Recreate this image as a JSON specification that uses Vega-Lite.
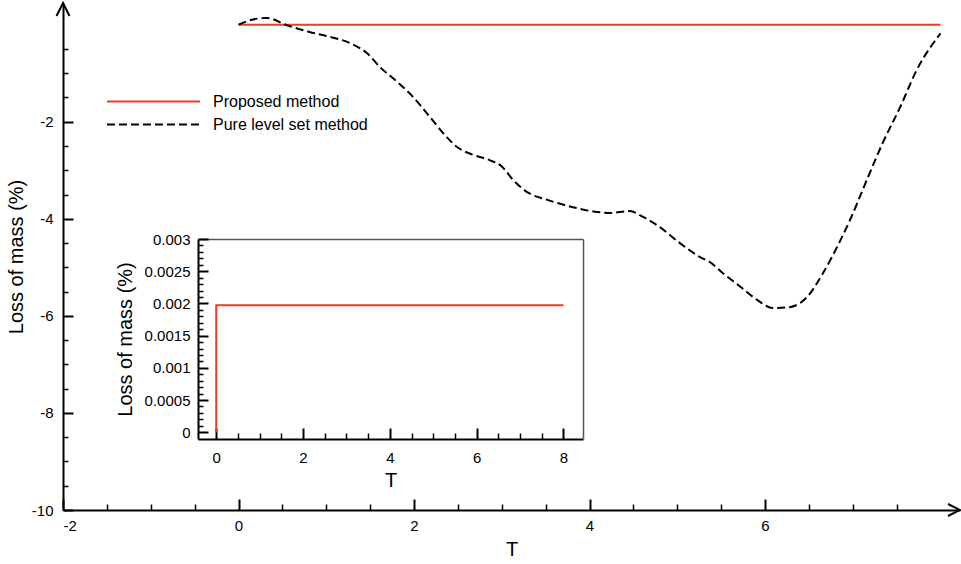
{
  "$schema": "https://vega.github.io/schema/vega-lite/v6.json",
  "width": 897,
  "height": 507,
  "autosize": "none",
  "padding": {"left": 63, "top": 3, "right": 1, "bottom": 54},
  "background": "white",
  "config": {
    "font": "Liberation Sans",
    "view": {"stroke": null},
    "axis": {
      "grid": false,
      "labelColor": "black",
      "titleColor": "black",
      "domainColor": "black",
      "tickColor": "black",
      "titleFontWeight": "normal",
      "labelFont": "Liberation Sans",
      "titleFont": "Liberation Sans"
    },
    "legend": {
      "labelFont": "Liberation Sans",
      "labelColor": "black"
    }
  },
  "datasets": {
    "main": [
      {"T": 0, "L": 0, "method": "Proposed method"},
      {"T": 8, "L": 0, "method": "Proposed method"},
      {"T": 0.00, "L": 0.00, "method": "Pure level set method"},
      {"T": 0.15, "L": 0.10, "method": "Pure level set method"},
      {"T": 0.32, "L": 0.14, "method": "Pure level set method"},
      {"T": 0.55, "L": -0.01, "method": "Pure level set method"},
      {"T": 0.81, "L": -0.15, "method": "Pure level set method"},
      {"T": 1.04, "L": -0.25, "method": "Pure level set method"},
      {"T": 1.27, "L": -0.38, "method": "Pure level set method"},
      {"T": 1.46, "L": -0.58, "method": "Pure level set method"},
      {"T": 1.61, "L": -0.87, "method": "Pure level set method"},
      {"T": 1.81, "L": -1.18, "method": "Pure level set method"},
      {"T": 1.99, "L": -1.49, "method": "Pure level set method"},
      {"T": 2.18, "L": -1.90, "method": "Pure level set method"},
      {"T": 2.37, "L": -2.31, "method": "Pure level set method"},
      {"T": 2.49, "L": -2.52, "method": "Pure level set method"},
      {"T": 2.67, "L": -2.68, "method": "Pure level set method"},
      {"T": 2.86, "L": -2.79, "method": "Pure level set method"},
      {"T": 3.00, "L": -2.92, "method": "Pure level set method"},
      {"T": 3.13, "L": -3.20, "method": "Pure level set method"},
      {"T": 3.29, "L": -3.45, "method": "Pure level set method"},
      {"T": 3.52, "L": -3.61, "method": "Pure level set method"},
      {"T": 3.81, "L": -3.76, "method": "Pure level set method"},
      {"T": 4.09, "L": -3.86, "method": "Pure level set method"},
      {"T": 4.23, "L": -3.88, "method": "Pure level set method"},
      {"T": 4.46, "L": -3.84, "method": "Pure level set method"},
      {"T": 4.61, "L": -3.96, "method": "Pure level set method"},
      {"T": 4.80, "L": -4.17, "method": "Pure level set method"},
      {"T": 5.03, "L": -4.50, "method": "Pure level set method"},
      {"T": 5.26, "L": -4.79, "method": "Pure level set method"},
      {"T": 5.37, "L": -4.89, "method": "Pure level set method"},
      {"T": 5.52, "L": -5.12, "method": "Pure level set method"},
      {"T": 5.72, "L": -5.40, "method": "Pure level set method"},
      {"T": 5.91, "L": -5.67, "method": "Pure level set method"},
      {"T": 6.09, "L": -5.84, "method": "Pure level set method"},
      {"T": 6.28, "L": -5.82, "method": "Pure level set method"},
      {"T": 6.48, "L": -5.61, "method": "Pure level set method"},
      {"T": 6.66, "L": -5.12, "method": "Pure level set method"},
      {"T": 6.86, "L": -4.44, "method": "Pure level set method"},
      {"T": 6.97, "L": -4.02, "method": "Pure level set method"},
      {"T": 7.16, "L": -3.20, "method": "Pure level set method"},
      {"T": 7.34, "L": -2.44, "method": "Pure level set method"},
      {"T": 7.54, "L": -1.70, "method": "Pure level set method"},
      {"T": 7.73, "L": -0.93, "method": "Pure level set method"},
      {"T": 8.00, "L": -0.18, "method": "Pure level set method"}
    ],
    "inset": [
      {"T": 0, "L": 0},
      {"T": 0, "L": 0.00197},
      {"T": 8, "L": 0.00197}
    ]
  },
  "layer": [
    {
      "layer": [
        {
          "data": {"name": "main"},
          "mark": {"type": "line", "strokeWidth": 2, "interpolate": "monotone"},
          "encoding": {
            "x": {
              "field": "T", "type": "quantitative",
              "scale": {"domain": [-2, 8.222], "nice": false, "zero": false},
              "axis": {
                "orient": "bottom",
                "title": "T",
                "titleFontSize": 20,
                "titlePadding": 6,
                "values": [-2, 0, 2, 4, 6],
                "labelExpr": "'' + datum.value",
                "labelFontSize": 15,
                "labelPadding": 8,
                "domainWidth": 2,
                "ticks": false,
                "tickSize": 0
              }
            },
            "y": {
              "field": "L", "type": "quantitative",
              "scale": {"domain": [-10, 0.447], "nice": false, "zero": false},
              "axis": {
                "orient": "left",
                "title": "Loss of mass (%)",
                "titleFontSize": 20,
                "titlePadding": 5,
                "values": [-10, -8, -6, -4, -2],
                "labelExpr": "'' + datum.value",
                "labelFontSize": 15,
                "labelPadding": 10,
                "domainWidth": 2,
                "ticks": false,
                "tickSize": 0
              }
            },
            "color": {
              "field": "method", "type": "nominal",
              "scale": {"domain": ["Proposed method", "Pure level set method"], "range": ["#ef3b24", "#000000"]},
              "legend": {
                "orient": "none",
                "legendX": 43,
                "legendY": 88,
                "title": null,
                "symbolType": "stroke",
                "symbolSize": 8649,
                "symbolStrokeWidth": 2,
                "labelFontSize": 16,
                "labelOffset": 12,
                "clipHeight": 21,
                "rowPadding": 2
              }
            },
            "strokeDash": {
              "field": "method", "type": "nominal",
              "scale": {"domain": ["Proposed method", "Pure level set method"], "range": [[1, 0], [8, 4]]},
              "legend": {
                "orient": "none",
                "legendX": 43,
                "legendY": 88,
                "title": null,
                "symbolType": "stroke",
                "symbolSize": 8649,
                "symbolStrokeWidth": 2,
                "labelFontSize": 16,
                "labelOffset": 12,
                "clipHeight": 21,
                "rowPadding": 2
              }
            }
          }
        },
        {
          "data": {"values": [{}]},
          "mark": {"type": "point", "shape": "M-2,-1L0,0L-2,1", "filled": false, "stroke": "black", "strokeWidth": 2, "size": 144, "opacity": 1},
          "encoding": {"x": {"datum": 8.222}, "y": {"datum": -10}}
        },
        {
          "data": {"values": [{}]},
          "mark": {"type": "point", "shape": "M-1,2L0,0L1,2", "filled": false, "stroke": "black", "strokeWidth": 2, "size": 169, "opacity": 1},
          "encoding": {"x": {"datum": -2}, "y": {"datum": 0.447}}
        }
      ]
    },
    {
      "data": {"name": "main"},
      "mark": {"type": "point", "opacity": 0},
      "encoding": {
        "x": {
          "field": "T", "type": "quantitative",
          "scale": {"domain": [-2, 8.222], "nice": false, "zero": false},
          "axis": {
            "orient": "top",
            "offset": -507,
            "title": null,
            "labels": false,
            "domain": false,
            "values": [-2, -1.5, -1, -0.5, 0, 0.5, 1, 1.5, 2, 2.5, 3, 3.5, 4, 4.5, 5, 5.5, 6, 6.5, 7, 7.5],
            "tickSize": {"condition": {"test": "datum.value % 2 === 0", "value": 11}, "value": 6},
            "tickWidth": {"condition": {"test": "datum.value % 2 === 0", "value": 2}, "value": 1.5}
          }
        },
        "y": {
          "field": "L", "type": "quantitative",
          "scale": {"domain": [-10, 0.447], "nice": false, "zero": false},
          "axis": {
            "orient": "right",
            "offset": -897,
            "title": null,
            "labels": false,
            "domain": false,
            "values": [-10, -9.5, -9, -8.5, -8, -7.5, -7, -6.5, -6, -5.5, -5, -4.5, -4, -3.5, -3, -2.5, -2, -1.5, -1, -0.5],
            "tickSize": {"condition": {"test": "datum.value % 2 === 0", "value": 10}, "value": 5},
            "tickWidth": {"condition": {"test": "datum.value % 2 === 0", "value": 2}, "value": 1.5}
          }
        }
      }
    },
    {
      "data": {"name": "inset"},
      "mark": {"type": "line", "strokeWidth": 2, "color": "#ef3b24"},
      "encoding": {
        "order": {"value": null},
        "x": {
          "field": "T", "type": "quantitative",
          "scale": {"domain": [-0.42, 8.45], "nice": false, "zero": false, "range": [135, 520]},
          "axis": {
            "orient": "bottom",
            "offset": -71,
            "title": "T",
            "titleFontSize": 20,
            "titlePadding": 5,
            "values": [0, 2, 4, 6, 8],
            "labelExpr": "'' + datum.value",
            "labelFontSize": 15,
            "labelPadding": 11,
            "domainWidth": 2,
            "ticks": false,
            "tickSize": 0
          }
        },
        "y": {
          "field": "L", "type": "quantitative",
          "scale": {"domain": [-0.000105, 0.003], "nice": false, "zero": false, "range": [436, 236]},
          "axis": {
            "orient": "left",
            "offset": -135,
            "title": "Loss of mass (%)",
            "titleFontSize": 20,
            "titlePadding": 9,
            "values": [0, 0.0005, 0.001, 0.0015, 0.002, 0.0025, 0.003],
            "labelExpr": "format(datum.value, '~g')",
            "labelFontSize": 15,
            "labelPadding": 8,
            "domainWidth": 2,
            "ticks": false,
            "tickSize": 0
          }
        }
      }
    },
    {
      "data": {"name": "inset"},
      "mark": {"type": "point", "opacity": 0},
      "encoding": {
        "x": {
          "field": "T", "type": "quantitative",
          "scale": {"domain": [-0.42, 8.45], "nice": false, "zero": false, "range": [135, 520]},
          "axis": {
            "orient": "top",
            "offset": -436,
            "title": null,
            "labels": false,
            "domain": false,
            "values": [0, 0.5, 1, 1.5, 2, 2.5, 3, 3.5, 4, 4.5, 5, 5.5, 6, 6.5, 7, 7.5, 8],
            "tickSize": {"condition": {"test": "datum.value % 2 === 0", "value": 11}, "value": 6},
            "tickWidth": {"condition": {"test": "datum.value % 2 === 0", "value": 2}, "value": 1.5}
          }
        },
        "y": {
          "field": "L", "type": "quantitative",
          "scale": {"domain": [-0.000105, 0.003], "nice": false, "zero": false, "range": [436, 236]},
          "axis": {
            "orient": "right",
            "offset": -762,
            "title": null,
            "labels": false,
            "domain": false,
            "values": [0, 0.0001, 0.0002, 0.0003, 0.0004, 0.0005, 0.0006, 0.0007, 0.0008, 0.0009, 0.001, 0.0011, 0.0012, 0.0013, 0.0014, 0.0015, 0.0016, 0.0017, 0.0018, 0.0019, 0.002, 0.0021, 0.0022, 0.0023, 0.0024, 0.0025, 0.0026, 0.0027, 0.0028, 0.0029, 0.003],
            "tickSize": {"condition": {"test": "abs(datum.value * 2000 - round(datum.value * 2000)) < 0.000001", "value": 10}, "value": 5},
            "tickWidth": {"condition": {"test": "abs(datum.value * 2000 - round(datum.value * 2000)) < 0.000001", "value": 2}, "value": 1.5}
          }
        }
      }
    },
    {
      "data": {"name": "inset"},
      "mark": {"type": "point", "opacity": 0},
      "encoding": {
        "x": {
          "field": "T", "type": "quantitative",
          "scale": {"domain": [-0.42, 8.45], "nice": false, "zero": false, "range": [135, 520]},
          "axis": {"orient": "top", "offset": -236, "title": null, "ticks": false, "labels": false, "domainColor": "#555555", "domainWidth": 1.5}
        },
        "y": {
          "field": "L", "type": "quantitative",
          "scale": {"domain": [-0.000105, 0.003], "nice": false, "zero": false, "range": [436, 236]},
          "axis": {"orient": "right", "offset": -377, "title": null, "ticks": false, "labels": false, "domainColor": "#555555", "domainWidth": 1.5}
        }
      }
    }
  ],
  "resolve": {"scale": {"x": "independent", "y": "independent"}}
}
